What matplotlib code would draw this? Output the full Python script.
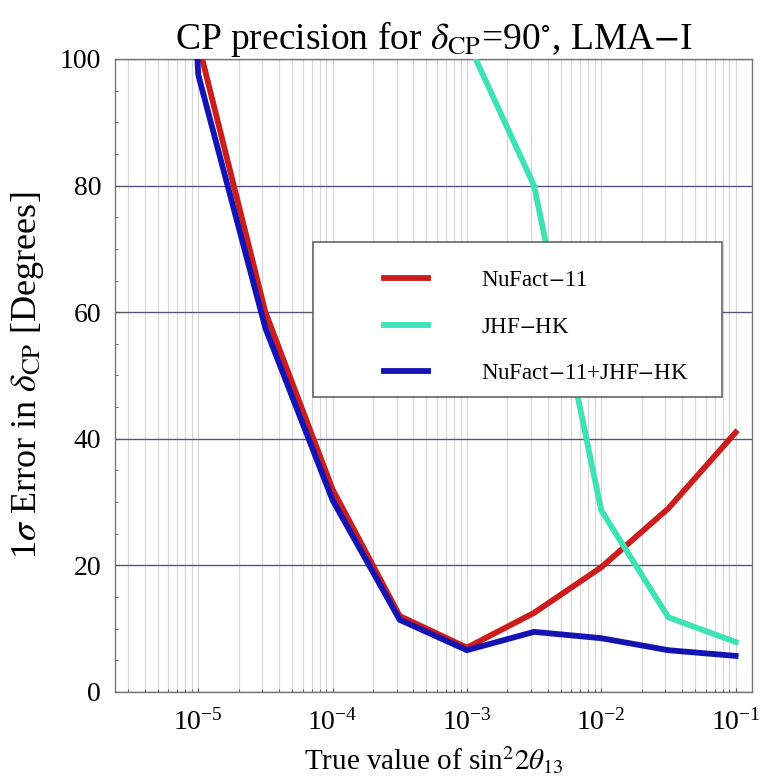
import numpy as np
import matplotlib.pyplot as plt
from matplotlib.patches import Rectangle
from matplotlib.ticker import LogLocator, LogFormatterMathtext, MultipleLocator, NullFormatter

plt.rcParams['font.family'] = ['Liberation Serif', 'DejaVu Serif']
plt.rcParams['mathtext.fontset'] = 'stix'

# true sin^2 2theta13 values (half-decade steps)
x_vals = [3.16e-6, 1e-5, 3.16e-5, 1e-4, 3.16e-4, 1e-3, 3.16e-3, 1e-2, 3.16e-2, 1e-1]

# 1 sigma error on delta_CP [deg]
nufact = [np.nan, 102.5, 60.0, 32.0, 12.0, 7.0, 12.5, 19.7, 29.0, 41.0]
jhf_hk = [np.nan, np.nan, np.nan, np.nan, np.nan, 103.0, 80.0, 28.7, 11.8, 7.9]
combined = [300.0, 97.5, 57.5, 30.3, 11.4, 6.6, 9.5, 8.5, 6.6, 5.7]

labels = ["NuFact$-$11", "JHF$-$HK", "NuFact$-$11+JHF$-$HK"]
colores = ["#cc1c1c", "#3de3b4", "#1414b4"]

fig = plt.figure(figsize=(7.64, 7.82), dpi=100)
ax = fig.add_axes([0.1505, 0.1151, 0.8335, 0.8095])

series = [nufact, jhf_hk, combined]
lines = []
for ys, c, lab in zip(series, colores, labels):
    ln, = ax.plot(x_vals, ys, color=c, lw=4.2, label=lab, solid_joinstyle='round', zorder=3)
    lines.append(ln)

ax.set_xscale('log')
ax.set_xlim(2.4e-6, 0.132)
ax.set_ylim(0, 100)

ax.xaxis.set_major_locator(LogLocator(base=10, numticks=10))
ax.xaxis.set_major_formatter(LogFormatterMathtext())
ax.xaxis.set_minor_locator(LogLocator(base=10, subs=np.arange(2, 10), numticks=20))
ax.xaxis.set_minor_formatter(NullFormatter())
ax.yaxis.set_major_locator(MultipleLocator(20))
ax.yaxis.set_minor_locator(MultipleLocator(5))

ax.grid(True, which='both', axis='x', color='#d8d8d8', lw=0.9, zorder=0)
ax.grid(True, which='major', axis='y', color='#55557a', lw=1.0, zorder=0)

ax.tick_params(which='both', direction='in', top=False, right=False, colors='#555555',
               labelcolor='black', labelsize=20)
ax.tick_params(which='major', length=3)
ax.tick_params(which='minor', length=2)
ax.tick_params(axis='x', pad=12)
ax.tick_params(axis='y', pad=10)
for s in ax.spines.values():
    s.set_color('#777777')
    s.set_linewidth(1.0)

ax.set_title(r"CP precision for $\delta_{\rm CP}$=90$^{\circ}$, LMA$-$I", fontsize=27, pad=5)
ax.set_ylabel(r"1$\sigma$ Error in $\delta_{\rm CP}$ [Degrees]", fontsize=26, labelpad=10)
ax.set_xlabel(r"True value of sin$^2 2\theta_{13}$", fontsize=21, labelpad=7)

# legend frame covers the curves
ax.add_patch(Rectangle((0.311, 0.466), 0.642, 0.245, transform=ax.transAxes,
                       facecolor='white', edgecolor='#666666', lw=1.2, zorder=5))
leg = ax.legend(handles=lines, loc='upper left', bbox_to_anchor=(0.405, 0.684),
                frameon=False, fontsize=16.5, handlelength=1.9, handletextpad=2.3,
                labelspacing=1.1, borderpad=0.0)
leg.set_zorder(6)

fig.savefig("out.png", dpi=100)
